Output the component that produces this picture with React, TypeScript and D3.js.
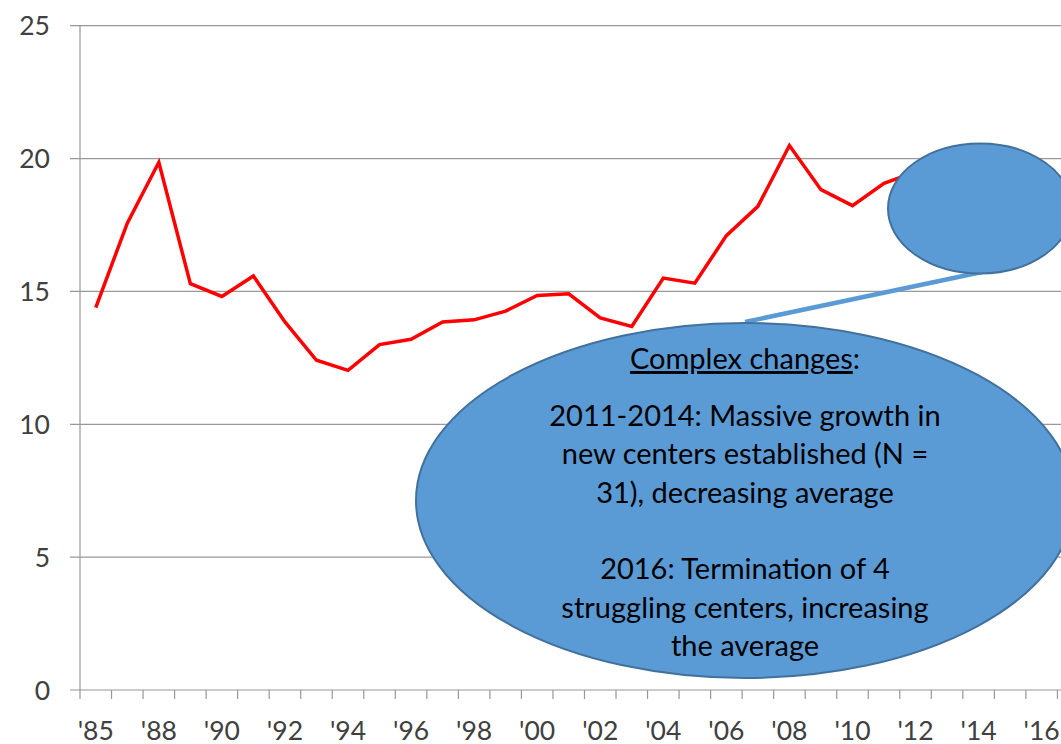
import React from "react";
import * as d3 from "d3";

const categories = ["'85","'87","'88","'89","'90","'91","'92","'93","'94","'95","'96","'97","'98","'99","'00","'01","'02","'03","'04","'05","'06","'07","'08","'09","'10","'11","'12","'13","'14","'15","'16","'17"];
const values: (number | null)[] = [14.39,17.57,19.86,15.29,14.81,15.58,13.85,12.41,12.03,13.0,13.2,13.85,13.93,14.26,14.85,14.91,14.0,13.68,15.5,15.31,17.1,18.2,20.49,18.83,18.23,19.07,19.5,18.9,18.2,17.6,18.7,null];
const yTicks = [0, 5, 10, 15, 20, 25];
const noteTitle = "Complex changes";
const noteLines = [
  "2011-2014: Massive growth in",
  "new centers established (N =",
  "31), decreasing average",
  "",
  "2016: Termination of 4",
  "struggling centers, increasing",
  "the average",
];

const W = 1061, H = 744;
const left = 80, top = 25.7, bottom = 690;
const step = 31.53;

export default function App() {
  const x = d3.scaleBand<string>().domain(categories).range([left, left + step * categories.length]).padding(0);
  const y = d3.scaleLinear().domain([0, 25]).range([bottom, top]);
  const cx = (c: string) => (x(c) as number) + x.bandwidth() / 2;
  const pts = categories.map((c, i) => ({ c, v: values[i] })).filter(d => d.v !== null) as { c: string; v: number }[];
  const line = d3.line<{ c: string; v: number }>().x(d => cx(d.c)).y(d => y(d.v));
  const rightEdge = left + step * categories.length;
  const font = "Lato, 'Open Sans', sans-serif";

  // annotation geometry
  const big = { cx: 745, cy: 500.5, rx: 329, ry: 177.5 };
  const small = { cx: 980, cy: 208.5, rx: 92, ry: 65 };

  return (
    <div style={{ position: "absolute", left: 0, top: 0 }}>
      <svg width={W} height={H} style={{ display: "block", overflow: "hidden" }}>
        <rect x={0} y={0} width={W} height={H} fill="#fff" />
        {yTicks.map(t => (
          <g key={t}>
            <line x1={left - 10} x2={rightEdge} y1={y(t)} y2={y(t)} stroke="#989898" strokeWidth={1.2} />
            <text x={50} y={y(t)} dy="0.36em" textAnchor="end" fontFamily={font} fontSize={26.5} fill="#404040">{t}</text>
          </g>
        ))}
        <line x1={left} x2={left} y1={top} y2={bottom} stroke="#989898" strokeWidth={1.2} />
        {categories.map((c, i) => (
          <line key={"t" + c} x1={(x(c) as number)} x2={(x(c) as number)} y1={bottom} y2={bottom + 9} stroke="#989898" strokeWidth={1.2} />
        ))}
        <line x1={rightEdge} x2={rightEdge} y1={bottom} y2={bottom + 9} stroke="#989898" strokeWidth={1.2} />
        {categories.map((c, i) => i % 2 === 0 ? (
          <text key={"l" + c} x={cx(c)} y={740} textAnchor="middle" fontFamily={font} fontSize={26.5} fill="#404040">{c}</text>
        ) : null)}
        <path d={line(pts) || ""} fill="none" stroke="#ff0000" strokeWidth={3.5} strokeLinejoin="miter" />

        <line x1={745} y1={322} x2={982} y2={272} stroke="#5b9bd5" strokeWidth={4.5} />
        <ellipse cx={small.cx} cy={small.cy} rx={small.rx} ry={small.ry} fill="#5b9bd5" stroke="#41719c" strokeWidth={2} />
        <ellipse cx={big.cx} cy={big.cy} rx={big.rx} ry={big.ry} fill="#5b9bd5" stroke="#41719c" strokeWidth={2} />
        <text x={big.cx} y={369} textAnchor="middle" fontFamily={font} fontSize={29} fill="#000">
          <tspan textDecoration="underline">{noteTitle}</tspan>:
        </text>
        {noteLines.map((l, i) => (
          <text key={i} x={big.cx} y={426 + i * 38.3} textAnchor="middle" fontFamily={font} fontSize={29} fill="#000">{l}</text>
        ))}
      </svg>
    </div>
  );
}
